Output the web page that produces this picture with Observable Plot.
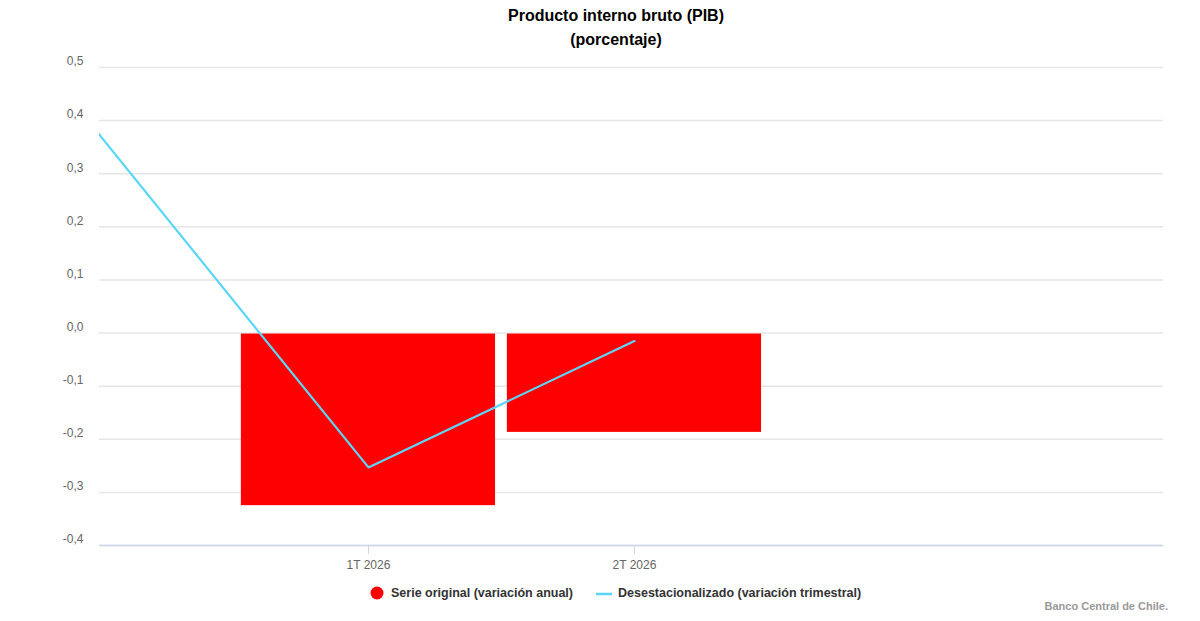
<!DOCTYPE html>
<html>
<head>
<meta charset="utf-8">
<script src="https://cdn.jsdelivr.net/npm/d3@7"></script>
<script src="https://cdn.jsdelivr.net/npm/@observablehq/plot@0.6"></script>
<style>
  body { margin: 0; background: #fff; font-family: "Liberation Sans", Arial, sans-serif; }
  #wrap { width: 1200px; height: 621px; position: relative; overflow: hidden; }
  #title { height: 52px; box-sizing: border-box; padding-top: 4px; padding-left: 32px; text-align: center; font-weight: bold; font-size: 16px; line-height: 24px; color: #000; }
  #legend { position: relative; height: 46px; font-size: 12.5px; font-weight: bold; color: #333; }
  .item { position: absolute; top: 11px; display: flex; align-items: center; white-space: nowrap; }
  #credits { position: absolute; right: 32px; top: 25px; font-size: 11px; font-weight: bold; color: #999; }
</style>
</head>
<body>
<div id="wrap">
  <div id="title"><div>Producto interno bruto (PIB)</div><div>(porcentaje)</div></div>
  <div id="chart"></div>
  <div id="legend"></div>
</div>
<script>
// Data
const quarters = ["2025-10-01", "2026-01-01", "2026-04-01"];
const quarterLabels = ["4T 2025", "1T 2026", "2T 2026"];
const barQuarters = ["2026-01-01", "2026-04-01"];
const serieOriginal = [-0.325, -0.187];          // variación anual (barras)
const desestacionalizado = [0.38, -0.253, -0.015]; // variación trimestral (línea)
const yTicks = [-0.4, -0.3, -0.2, -0.1, 0, 0.1, 0.2, 0.3, 0.4, 0.5];
const xTickDates = ["2026-01-01", "2026-04-01"];
const xTickLabels = ["1T 2026", "2T 2026"];
const seriesNames = ["Serie original (variación anual)", "Desestacionalizado (variación trimestral)"];
const seriesColors = ["#ff0000", "#5cd6f8"];

const parse = d3.utcParse("%Y-%m-%d");
const halfBar = 43; // days on each side of the quarter start
const bars = barQuarters.map((q, i) => ({
  x1: d3.utcDay.offset(parse(q), -halfBar),
  x2: d3.utcDay.offset(parse(q), halfBar),
  value: serieOriginal[i]
}));
const line = quarters.map((q, i) => ({ date: parse(q), value: desestacionalizado[i], label: quarterLabels[i] }));
const ticks = xTickDates.map(parse);
const tickLabel = new Map(ticks.map((t, i) => [+t, xTickLabels[i]]));
const fmt = v => d3.format(".1f")(v).replace(".", ",").replace("−", "-");

const chart = Plot.plot({
  width: 1200,
  height: 523,
  marginTop: 15,
  marginBottom: 30,
  marginLeft: 99,
  marginRight: 37,
  style: { fontFamily: "Liberation Sans, Arial, sans-serif", background: "#fff" },
  x: { type: "utc", domain: [parse("2025-10-02"), parse("2026-09-27")] },
  y: { domain: [-0.4, 0.5] },
  marks: [
    Plot.gridY(yTicks, { stroke: "#e6e6e6", strokeOpacity: 1, strokeWidth: 1.5 }),
    Plot.rect(bars, { x1: "x1", x2: "x2", y1: 0, y2: "value", fill: seriesColors[0], insetTop: 1 }),
    Plot.line(line, { x: "date", y: "value", stroke: seriesColors[1], strokeWidth: 2.2, clip: true }),
    Plot.ruleY([-0.4], { stroke: "#ccd6eb", strokeWidth: 1.5 }),
    Plot.axisY(yTicks, { tickSize: 0, tickPadding: 16, dy: -6, tickFormat: fmt, fill: "#666", fontSize: 12, label: null }),
    Plot.axisX(ticks, { tickSize: 9, stroke: "#ccd6eb", tickPadding: 6, tickFormat: d => tickLabel.get(+d), fill: "#666", fontSize: 12, label: null })
  ]
});
document.getElementById("chart").appendChild(chart);

// Legend
const legend = document.getElementById("legend");
const it1 = document.createElement("div");
it1.className = "item"; it1.style.left = "370px";
it1.innerHTML = `<svg width="14" height="14" style="margin-right:7px"><circle cx="7" cy="7" r="6.5" fill="${seriesColors[0]}"/></svg><span>${seriesNames[0]}</span>`;
const it2 = document.createElement("div");
it2.className = "item"; it2.style.left = "595px";
it2.innerHTML = `<svg width="18" height="14" style="margin-right:5px"><line x1="1" x2="17" y1="8" y2="8" stroke="${seriesColors[1]}" stroke-width="2.5"/></svg><span>${seriesNames[1]}</span>`;
legend.appendChild(it1); legend.appendChild(it2);
const cr = document.createElement("div");
cr.id = "credits"; cr.textContent = "Banco Central de Chile.";
legend.appendChild(cr);
</script>
</body>
</html>
